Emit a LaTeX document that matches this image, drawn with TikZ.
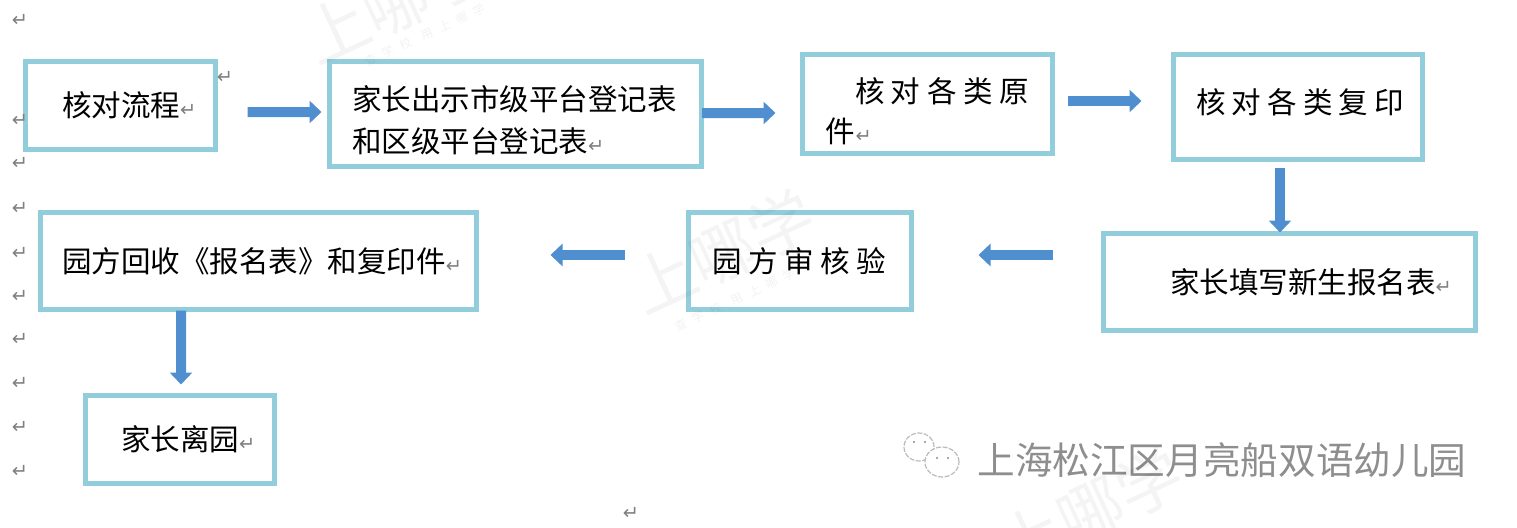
\documentclass[tikz,border=0pt]{standalone}
\usepackage{fontspec}
\usepackage{xcolor}
\usetikzlibrary{arrows.meta}
\setmainfont{Noto Sans CJK SC}
\newfontfamily\retfont{DejaVu Sans}
\definecolor{boxblue}{HTML}{92CDDC}
\definecolor{flowblue}{HTML}{4F8FD0}
\definecolor{retgray}{HTML}{808080}
\definecolor{schoolgray}{HTML}{8E8E8E}
\newcommand{\retmark}{{\retfont\fontsize{5.5pt}{6pt}\selectfont\color{retgray}↵}}
\tikzset{
  flowbox/.style 2 args={draw=boxblue, line width=0.05cm, fill=white, inner sep=0pt, align=left,
    text width=#1, minimum height=#2, font=\fontsize{8.4pt}{12pt}\selectfont},
  flowline/.style={draw=flowblue, line width=0.1cm, -{Triangle[length=0.12cm,width=0.22cm,fill=flowblue]}},
  retnode/.style={inner sep=0pt},
  wmbig/.style={inner sep=0pt, rotate=25, text=black, text opacity=0.045, font=\fontsize{18.5pt}{20pt}\selectfont},
  wmsmall/.style={inner sep=0pt, rotate=25, text=black, text opacity=0.05, font=\fontsize{3.4pt}{4pt}\selectfont}
}

\begin{document}
\begin{tikzpicture}
    \useasboundingbox (0,0) rectangle (15.17,5.27);

    % Top row:
    \node[flowbox={1.90cm}{0.88cm}] (check) at (1.205,4.215) {\hspace*{0.365cm}核对流程\retmark};
    \node[flowbox={3.72cm}{1.05cm}] (show) at (5.155,4.13) {\rule{0pt}{0.37cm}\hspace*{0.225cm}家长出示市级平台登记表\\\hspace*{0.225cm}和区级平台登记表\retmark};
    \node[flowbox={2.50cm}{0.99cm}] (original) at (9.275,4.23) {\rule{0pt}{0.39cm}\hspace*{0.525cm}{\addfontfeature{LetterSpace=22}核对各类原}\\[-0.02cm]\hspace*{0.235cm}件\retmark};
    \node[flowbox={2.49cm}{1.05cm}] (copy) at (12.98,4.20) {\raisebox{0.13cm}{\hspace*{0.225cm}\addfontfeature{LetterSpace=21}核对各类复印}};

    % Middle row:
    \node[flowbox={3.72cm}{0.97cm}] (fill) at (12.895,2.45) {\hspace*{0.665cm}家长填写新生报名表\retmark};
    \node[flowbox={2.23cm}{0.97cm}] (review) at (8.00,2.66) {\hspace*{0.235cm}{\addfontfeature{LetterSpace=22}园方审核验}};
    \node[flowbox={4.36cm}{0.97cm}] (collect) at (2.585,2.66) {\hspace*{0.215cm}园方回收《报名表》和复印件\retmark};

    % Bottom box:
    \node[flowbox={1.89cm}{0.88cm}] (leave) at (1.80,0.875) {\hspace*{0.355cm}家长离园\retmark};

    % Flow arrows:
    \draw[flowline] ([xshift=0.295cm,yshift=-0.065cm]check.east) -- ([xshift=-0.055cm,yshift=0.02cm]show.west);
    \draw[flowline] ([xshift=-0.02cm,yshift=0.01cm]show.east) -- ([xshift=-0.245cm,yshift=-0.09cm]original.west);
    \draw[flowline] ([xshift=0.125cm,yshift=0.03cm]original.east) -- ([xshift=-0.295cm,yshift=0.06cm]copy.west);
    \draw[flowline] ([xshift=-0.18cm,yshift=-0.055cm]copy.south) -- ([xshift=-0.095cm,yshift=-0.015cm]fill.north);
    \draw[flowline] ([xshift=-0.485cm,yshift=0.27cm]fill.west) -- ([xshift=0.645cm,yshift=0.06cm]review.east);
    \draw[flowline] ([xshift=-0.615cm,yshift=0.06cm]review.west) -- ([xshift=0.715cm,yshift=0.06cm]collect.east);
    \draw[flowline] ([xshift=-0.775cm,yshift=0.015cm]collect.south) -- ([xshift=0.01cm,yshift=0.085cm]leave.north);

    % Return marks down the margin:
    \foreach \i/\ypos in {1/5.07,2/4.07,3/3.64,4/3.19,5/2.74,6/2.31,7/1.88,8/1.44,9/1.00,10/0.56}
      \node[retnode] (ret\i) at (0.20,\ypos) {\retmark};
    \node[retnode] (retbox) at (2.25,4.50) {\retmark};
    \node[retnode] (retfoot) at (6.31,0.14) {\retmark};

    % School name with the chat icon:
    \draw[schoolgray!60, line width=0.012cm, dash pattern=on 0.05cm off 0.015cm] (9.19,0.80) ellipse (0.15 and 0.14);
    \filldraw[draw=schoolgray!60, fill=white, line width=0.012cm, dash pattern=on 0.05cm off 0.015cm] (9.42,0.65) ellipse (0.17 and 0.15);
    \fill[schoolgray] (9.14,0.85) circle (0.012) (9.25,0.85) circle (0.012) (9.37,0.69) circle (0.012) (9.48,0.69) circle (0.012);
    \node[inner sep=0pt, text=schoolgray, font=\fontsize{10.7pt}{12pt}\selectfont] (school) at (12.22,0.67) {上海松江区月亮船双语幼儿园};

    % Faint marks over everything:
    \node[wmbig] (markone) at (3.95,5.25) {上哪学};
    \node[wmsmall] (smallone) at (4.25,4.92) {\addfontfeature{LetterSpace=60}查学校\quad 用上哪学};
    \node[wmbig] (marktwo) at (7.22,2.75) {上哪学};
    \node[wmsmall] (smalltwo) at (7.35,2.27) {\addfontfeature{LetterSpace=60}查学校\quad 用上哪学};
    \node[wmbig] (markthree) at (10.90,0.17) {上哪学};
\end{tikzpicture}
\end{document}
